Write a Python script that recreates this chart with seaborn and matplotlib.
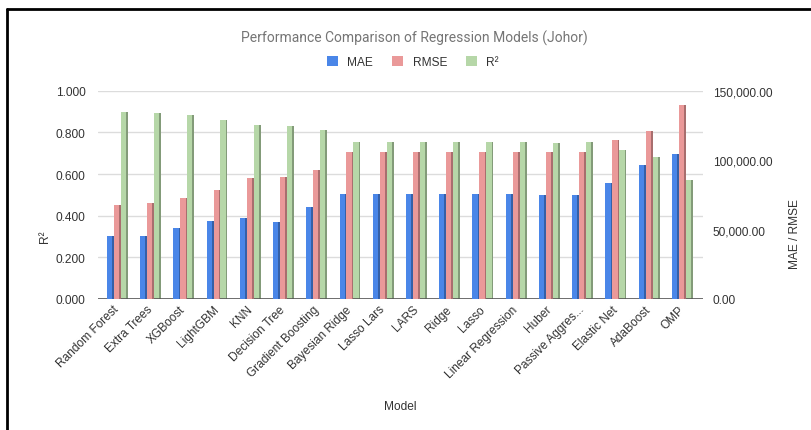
import matplotlib
matplotlib.use("Agg")
import matplotlib.pyplot as plt
import numpy as np
import pandas as pd
import seaborn as sns
from matplotlib.patches import Patch, Rectangle
from matplotlib.lines import Line2D
from matplotlib.ticker import FuncFormatter, MultipleLocator
import matplotlib.colors as mcolors

# Model results for Johor
models = ["Random Forest", "Extra Trees", "XGBoost", "LightGBM", "KNN",
          "Decision Tree", "Gradient Boosting", "Bayesian Ridge", "Lasso Lars",
          "LARS", "Ridge", "Lasso", "Linear Regression", "Huber",
          "Passive Aggressive", "Elastic Net", "AdaBoost", "OMP"]
mae = [45600, 45600, 51150, 56400, 58500, 55650, 66450, 75900, 75900,
       75900, 75900, 75900, 75900, 74850, 74850, 83250, 96450, 104100]
rmse = [67950, 68850, 72900, 78750, 86850, 87600, 92700, 105600, 105600,
        105600, 105600, 105600, 105600, 105600, 106000, 114450, 120750, 139650]
r2 = [0.896, 0.891, 0.883, 0.859, 0.834, 0.829, 0.810, 0.755, 0.755,
      0.755, 0.755, 0.755, 0.755, 0.750, 0.752, 0.714, 0.682, 0.573]

metrics = ["MAE", "RMSE", "R²"]
colors = {"MAE": "#4a86e8", "RMSE": "#ea9999", "R²": "#b6d7a8"}

n = len(models)
err_df = pd.DataFrame({"Model": models * 2,
                       "Metric": ["MAE"] * n + ["RMSE"] * n,
                       "Value": mae + rmse})
fit_df = pd.DataFrame({"Model": models, "Metric": ["R²"] * n, "Value": r2})


def short(name, limit=17, keep=14):
    return name if len(name) <= limit else name[:keep] + "..."


sns.set_theme(style="white")
plt.rcParams["font.family"] = ["Liberation Sans", "DejaVu Sans"]

W, H = 812, 431
fig = plt.figure(figsize=(W / 100, H / 100), dpi=100)
ax = fig.add_axes([98 / W, 1 - 300 / H, (703 - 98) / W, (300 - 91.7) / H])
ax2 = ax.twinx()

sns.barplot(data=fit_df, x="Model", y="Value", hue="Metric", hue_order=metrics,
            palette=colors, width=0.63, saturation=1, legend=False, ax=ax,
            errorbar=None, dodge=True)
sns.barplot(data=err_df, x="Model", y="Value", hue="Metric", hue_order=metrics,
            palette=colors, width=0.63, saturation=1, legend=False, ax=ax2,
            errorbar=None, dodge=True)

# bevelled look: darker strip on the right side of each bar
for a in (ax, ax2):
    for p in list(a.patches):
        h = p.get_height()
        if not np.isfinite(h) or h == 0:
            continue
        x0, w = p.get_x(), p.get_width()
        fc = np.array(mcolors.to_rgb(p.get_facecolor()))
        p.set_edgecolor("none")
        a.add_patch(Rectangle((x0 + w * 0.75, 0), w * 0.25, h,
                              facecolor=fc * 0.72, edgecolor="none",
                              zorder=p.get_zorder() + 0.1))

ax.set_ylim(0, 1)
ax2.set_ylim(0, 150000)
ax.set_xlim(-0.58, 17.62)

ax.yaxis.set_major_locator(MultipleLocator(0.2))
ax.yaxis.set_major_formatter(FuncFormatter(lambda v, _: f"{v:.3f}"))
ax2.yaxis.set_major_locator(MultipleLocator(50000))
ax2.yaxis.set_major_formatter(FuncFormatter(lambda v, _: f"{v:,.2f}"))

ax.grid(axis="y", color="#dcdcdc", linewidth=1)
ax.set_axisbelow(True)
for a in (ax, ax2):
    for s in a.spines.values():
        s.set_visible(False)
ax.axhline(0, color="#555555", linewidth=1.2, zorder=5)

tick_color = "#333333"
ax.tick_params(axis="y", length=0, pad=9, labelsize=8.6, labelcolor=tick_color)
ax2.tick_params(axis="y", length=0, pad=7, labelsize=8.6, labelcolor=tick_color)
ax.set_xticks(range(n))
ax.set_xticklabels([short(m) for m in models], rotation=45, ha="right",
                   va="center", rotation_mode="anchor")
ax.tick_params(axis="x", length=0, pad=6, labelsize=8.6, labelcolor=tick_color)

ax.set_xlabel("")
ax.set_ylabel("")
ax2.set_ylabel("")

fig.text(45 / W, 1 - 237 / H, "R²", rotation=90, ha="center", va="center",
         fontsize=8.6, color=tick_color)
fig.text(795 / W, 1 - 234 / H, "MAE / RMSE", rotation=90, ha="center",
         va="center", fontsize=8.6, color=tick_color)
fig.text(400 / W, 1 - 407 / H, "Model", ha="center", va="center",
         fontsize=8.6, color=tick_color)
fig.text(414 / W, 1 - 38 / H, "Performance Comparison of Regression Models (Johor)",
         ha="center", va="center", fontsize=10, color="#757575",
         family=["Roboto", "DejaVu Sans"])

handles = [Patch(facecolor=colors[m], edgecolor="none", label=m) for m in metrics]
fig.legend(handles=handles, loc="center", bbox_to_anchor=(413 / W, 1 - 63 / H),
           ncol=3, frameon=False, fontsize=8.6, handlelength=0.9,
           handleheight=1.0, handletextpad=0.8, columnspacing=1.6,
           labelcolor=tick_color)

# frame around the chart
fig.add_artist(Line2D([6.5 / W, 6.5 / W], [0, 1 - 9.5 / H], transform=fig.transFigure,
                      color="black", linewidth=2))
fig.add_artist(Line2D([6.5 / W, 1], [1 - 9.5 / H, 1 - 9.5 / H], transform=fig.transFigure,
                      color="black", linewidth=2))

fig.savefig("out.png", dpi=100, facecolor="white")
